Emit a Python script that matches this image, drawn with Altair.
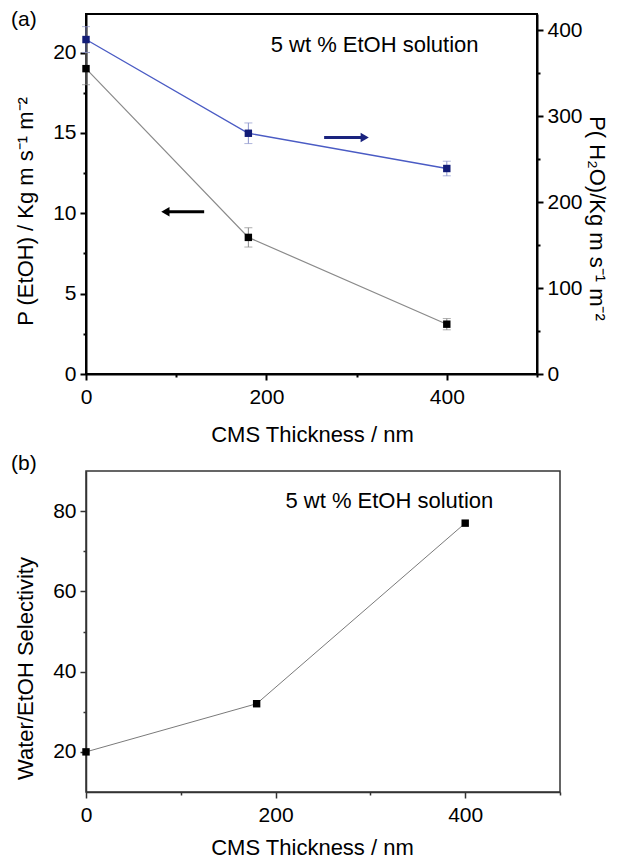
import altair as alt
import pandas as pd

# ---------------- data ----------------
thickness = [0, 180, 400]
p_etoh = [19.0, 8.5, 3.1]
p_etoh_err = [1.0, 0.6, 0.35]
p_water = [389, 280, 239]
p_water_err = [15, 12, 8.5]
selectivity = [20, 32, 77]

x_major = [0, 200, 400]
x_minor = [100, 300, 500]
etoh_major = [0, 5, 10, 15, 20]
etoh_minor = [2.5, 7.5, 12.5, 17.5]
water_major = [0, 100, 200, 300, 400]
water_minor = [50, 150, 250, 350]
sel_major = [20, 40, 60, 80]
sel_minor = [30, 50, 70]

# annotations (data coordinates)
etoh_arrow_x = [131, 88]
etoh_arrow_y = [10.1]
water_arrow_x = [264, 309]
water_arrow_y = [275]
note_text = ["5 wt % EtOH solution"]
note_a_xy = [320, 20.5]
note_b_xy = [320, 82.5]

FONT = "Liberation Sans"

df_a = pd.DataFrame({
    "x": thickness,
    "etoh": p_etoh,
    "etoh_lo": [v - e for v, e in zip(p_etoh, p_etoh_err)],
    "etoh_hi": [v + e for v, e in zip(p_etoh, p_etoh_err)],
    "water": p_water,
    "water_lo": [v - e for v, e in zip(p_water, p_water_err)],
    "water_hi": [v + e for v, e in zip(p_water, p_water_err)],
})
df_b = pd.DataFrame({"x": thickness, "sel": selectivity})


def major_axis(values, color, width, labelPadding=4, **kw):
    return alt.Axis(values=values, tickSize=6, domainColor=color, domainWidth=width,
                    tickColor=color, tickWidth=width, labelFlush=False,
                    labelFont=FONT, labelFontSize=21, labelColor="black",
                    labelPadding=labelPadding,
                    titleFont=FONT, titleFontSize=22, titleFontWeight="normal",
                    titleColor="black", grid=False, **kw)


def minor_axis(values, color, width, orient):
    return alt.Axis(values=values, tickSize=3, tickColor=color, tickWidth=width,
                    labels=False, domain=False, title=None, grid=False, orient=orient)


# ---------------- panel (a) ----------------
x_scale_a = alt.Scale(domain=[0, 500], nice=False)
etoh_scale = alt.Scale(domain=[0, 22.4], nice=False)
water_scale = alt.Scale(domain=[0, 418.7], nice=False)

x_axis_a = major_axis(x_major, "black", 2, labelPadding=6, orient="bottom", format="d",
                      title="CMS Thickness / nm", titleX=226, titleY=60, titleBaseline="middle")
etoh_axis = major_axis(etoh_major, "black", 2, orient="left", format="d",
                       title="P (EtOH) / Kg m s\u207b\u00b9 m\u207b\u00b2",
                       titleX=-61, titleY=197, titleBaseline="middle")
water_axis = major_axis(water_major, "black", 2, orient="right", format="d",
                        title="P( H\u2082O)/Kg m s\u207b\u00b9 m\u207b\u00b2",
                        titleX=59, titleY=204, titleBaseline="middle")

base_a = alt.Chart(df_a)

etoh_line = base_a.mark_line(color="#8a8a8a", strokeWidth=1.2).encode(
    x=alt.X("x:Q", scale=x_scale_a, axis=x_axis_a),
    y=alt.Y("etoh:Q", scale=etoh_scale, axis=etoh_axis),
)
etoh_minor_ticks = base_a.mark_point(opacity=0).encode(
    x=alt.X("x:Q", scale=x_scale_a, axis=minor_axis(x_minor, "black", 2, "bottom")),
    y=alt.Y("etoh:Q", scale=etoh_scale, axis=minor_axis(etoh_minor, "black", 2, "left")),
)
etoh_err = base_a.mark_rule(color="#8a8a8a", strokeWidth=1).encode(
    x=alt.X("x:Q", scale=x_scale_a, axis=None),
    y=alt.Y("etoh_lo:Q", scale=etoh_scale, axis=None), y2="etoh_hi:Q")
etoh_cap_lo = base_a.mark_tick(orient="horizontal", size=8, thickness=1, color="#8a8a8a").encode(
    x=alt.X("x:Q", scale=x_scale_a, axis=None),
    y=alt.Y("etoh_lo:Q", scale=etoh_scale, axis=None))
etoh_cap_hi = base_a.mark_tick(orient="horizontal", size=8, thickness=1, color="#8a8a8a").encode(
    x=alt.X("x:Q", scale=x_scale_a, axis=None),
    y=alt.Y("etoh_hi:Q", scale=etoh_scale, axis=None))
etoh_pts = base_a.mark_square(size=55, color="black", opacity=1).encode(
    x=alt.X("x:Q", scale=x_scale_a, axis=None),
    y=alt.Y("etoh:Q", scale=etoh_scale, axis=None))

arr_e = pd.DataFrame({"x1": [etoh_arrow_x[0]], "x2": [etoh_arrow_x[1]], "y": etoh_arrow_y})
etoh_arrow = alt.Chart(arr_e).mark_rule(color="black", strokeWidth=3).encode(
    x=alt.X("x1:Q", scale=x_scale_a, axis=None), x2="x2:Q",
    y=alt.Y("y:Q", scale=etoh_scale, axis=None))
etoh_head = alt.Chart(arr_e).mark_point(shape="triangle-left", filled=True, size=90,
                                         color="black", opacity=1).encode(
    x=alt.X("x2:Q", scale=x_scale_a, axis=None),
    y=alt.Y("y:Q", scale=etoh_scale, axis=None))

note_a = alt.Chart(pd.DataFrame({"x": [note_a_xy[0]], "y": [note_a_xy[1]], "t": note_text})).mark_text(
    font=FONT, fontSize=22, color="black", align="center", baseline="middle").encode(
    x=alt.X("x:Q", scale=x_scale_a, axis=None),
    y=alt.Y("y:Q", scale=etoh_scale, axis=None), text="t:N")
label_a = alt.Chart(pd.DataFrame({"t": ["(a)"]})).mark_text(
    font=FONT, fontSize=21, color="black", align="left", baseline="middle").encode(
    x=alt.value(-75), y=alt.value(6), text="t:N")

etoh_group = alt.layer(etoh_line, etoh_minor_ticks, etoh_err, etoh_cap_lo, etoh_cap_hi,
                       etoh_pts, etoh_arrow, etoh_head, note_a, label_a
                       ).resolve_axis(x="independent", y="independent")

w_line = base_a.mark_line(color="#4a5bc4", strokeWidth=1.3).encode(
    x=alt.X("x:Q", scale=x_scale_a, axis=None),
    y=alt.Y("water:Q", scale=water_scale, axis=water_axis))
w_minor_ticks = base_a.mark_point(opacity=0).encode(
    x=alt.X("x:Q", scale=x_scale_a, axis=None),
    y=alt.Y("water:Q", scale=water_scale, axis=minor_axis(water_minor, "black", 2, "right")))
w_err = base_a.mark_rule(color="#8c94cc", strokeWidth=1).encode(
    x=alt.X("x:Q", scale=x_scale_a, axis=None),
    y=alt.Y("water_lo:Q", scale=water_scale, axis=None), y2="water_hi:Q")
w_cap_lo = base_a.mark_tick(orient="horizontal", size=8, thickness=1, color="#8c94cc").encode(
    x=alt.X("x:Q", scale=x_scale_a, axis=None),
    y=alt.Y("water_lo:Q", scale=water_scale, axis=None))
w_cap_hi = base_a.mark_tick(orient="horizontal", size=8, thickness=1, color="#8c94cc").encode(
    x=alt.X("x:Q", scale=x_scale_a, axis=None),
    y=alt.Y("water_hi:Q", scale=water_scale, axis=None))
w_pts = base_a.mark_square(size=55, color="#121c78", opacity=1).encode(
    x=alt.X("x:Q", scale=x_scale_a, axis=None),
    y=alt.Y("water:Q", scale=water_scale, axis=None))

arr_w = pd.DataFrame({"x1": [water_arrow_x[0]], "x2": [water_arrow_x[1]], "y": water_arrow_y})
w_arrow = alt.Chart(arr_w).mark_rule(color="#1a237e", strokeWidth=3).encode(
    x=alt.X("x1:Q", scale=x_scale_a, axis=None), x2="x2:Q",
    y=alt.Y("y:Q", scale=water_scale, axis=None))
w_head = alt.Chart(arr_w).mark_point(shape="triangle-right", filled=True, size=90,
                                      color="#1a237e", opacity=1).encode(
    x=alt.X("x2:Q", scale=x_scale_a, axis=None),
    y=alt.Y("y:Q", scale=water_scale, axis=None))

water_group = alt.layer(w_line, w_minor_ticks, w_err, w_cap_lo, w_cap_hi, w_pts,
                        w_arrow, w_head).resolve_axis(y="independent")

panel_a = alt.layer(etoh_group, water_group).resolve_scale(y="independent").properties(
    width=451, height=360,
    view=alt.ViewBackground(stroke="black", strokeWidth=2))

# ---------------- panel (b) ----------------
x_scale_b = alt.Scale(domain=[0, 500], nice=False)
sel_scale = alt.Scale(domain=[10, 90], nice=False)

x_axis_b = major_axis(x_major, "#333333", 1.5, labelPadding=6, orient="bottom", format="d",
                      title="CMS Thickness / nm", titleX=226, titleY=55, titleBaseline="middle")
sel_axis = major_axis(sel_major, "#333333", 1.5, orient="left", format="d",
                      title="Water/EtOH Selectivity",
                      titleX=-61, titleY=197, titleBaseline="middle")

base_b = alt.Chart(df_b)
sel_line = base_b.mark_line(color="#7a7a7a", strokeWidth=1).encode(
    x=alt.X("x:Q", scale=x_scale_b, axis=x_axis_b),
    y=alt.Y("sel:Q", scale=sel_scale, axis=sel_axis))
sel_minor_ticks = base_b.mark_point(opacity=0).encode(
    x=alt.X("x:Q", scale=x_scale_b, axis=minor_axis(x_minor, "#333333", 1.5, "bottom")),
    y=alt.Y("sel:Q", scale=sel_scale, axis=minor_axis(sel_minor, "#333333", 1.5, "left")))
sel_pts = base_b.mark_square(size=55, color="black", opacity=1).encode(
    x=alt.X("x:Q", scale=x_scale_b, axis=None),
    y=alt.Y("sel:Q", scale=sel_scale, axis=None))
note_b = alt.Chart(pd.DataFrame({"x": [note_b_xy[0]], "y": [note_b_xy[1]], "t": note_text})).mark_text(
    font=FONT, fontSize=22, color="black", align="center", baseline="middle").encode(
    x=alt.X("x:Q", scale=x_scale_b, axis=None),
    y=alt.Y("y:Q", scale=sel_scale, axis=None), text="t:N")
label_b = alt.Chart(pd.DataFrame({"t": ["(b)"]})).mark_text(
    font=FONT, fontSize=21, color="black", align="left", baseline="middle").encode(
    x=alt.value(-75), y=alt.value(-7), text="t:N")

panel_b = alt.layer(sel_line, sel_minor_ticks, sel_pts, note_b, label_b
                    ).resolve_axis(x="independent", y="independent").properties(
    width=474, height=321,
    view=alt.ViewBackground(stroke="#333333", strokeWidth=1.5))

chart = alt.vconcat(panel_a, panel_b, spacing=6).properties(
    padding={"left": 2, "top": 0, "right": 0, "bottom": 0},
    background="white",
)

chart.save("out.html", embed_options={"renderer": "svg", "actions": False})
